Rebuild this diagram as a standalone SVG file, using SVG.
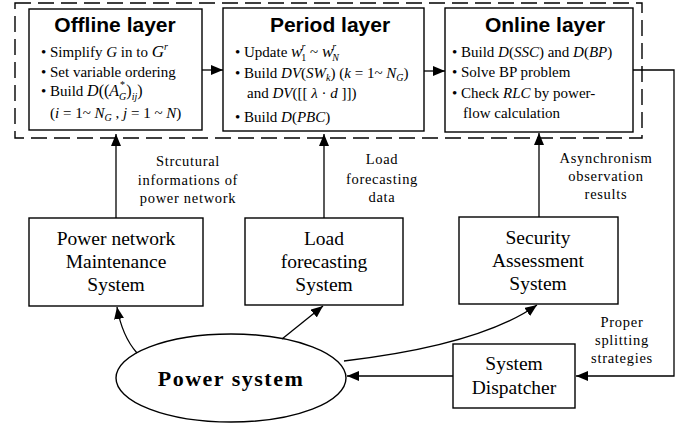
<svg xmlns="http://www.w3.org/2000/svg" width="686" height="426" viewBox="0 0 686 426">
  <style>
    .box { fill: #ffffff; stroke: #000000; stroke-width: 1.4; }
    .frame { fill: none; stroke: #000000; stroke-width: 1.4; stroke-dasharray: 16 7; }
    .edge { fill: none; stroke: #000000; stroke-width: 1.3; }
    .head { font-family: "Liberation Sans", Arial, sans-serif; font-weight: bold; font-size: 21px; fill: #000; text-anchor: middle; }
    .item { font-family: "Liberation Serif", "Times New Roman", serif; font-size: 15px; fill: #000; }
    .math { font-style: italic; }
    .name { font-family: "Liberation Serif", "Times New Roman", serif; font-size: 19.5px; fill: #000; text-anchor: middle; }
    .lbl { font-family: "Liberation Serif", "Times New Roman", serif; font-size: 14.5px; fill: #000; text-anchor: middle; letter-spacing: 0.7px; }
    .sub { font-size: 10px; }
  </style>
  <defs>
    <marker id="arrow" viewBox="0 0 12 10" refX="12" refY="5" markerWidth="12" markerHeight="10" markerUnits="userSpaceOnUse" orient="auto">
      <path d="M0,0 L12,5 L0,10 Z" fill="#000"/>
    </marker>
  </defs>

  <!-- dashed frame around the three layers -->
  <rect class="frame" x="15" y="3" width="627" height="135"/>

  <g id="offline-layer">
    <rect class="box" x="29" y="9" width="173" height="121"/>
    <text class="head" x="115" y="32">Offline layer</text>
    <text class="item" x="41" y="57">• Simplify <tspan class="math">G</tspan> in to <tspan class="math" font-size="17">G</tspan><tspan class="math sub" dy="-7">r</tspan></text>
    <text class="item" x="41" y="77">• Set variable ordering</text>
    <text class="item" x="41" y="96">• Build  <tspan class="math" font-size="16">D</tspan><tspan font-size="16">((</tspan><tspan class="math" font-size="16">A</tspan><tspan class="sub" dx="1" dy="-8">*</tspan><tspan class="math sub" dx="-6" dy="12">G</tspan><tspan font-size="16" dy="-4">)</tspan><tspan class="math sub" dy="4">ij</tspan><tspan font-size="16" dy="-4">)</tspan></text>
    <text class="item" x="50" y="118">(<tspan class="math">i</tspan> = 1~ <tspan class="math">N</tspan><tspan class="math sub" dy="3">G</tspan><tspan dy="-3"> , </tspan><tspan class="math">j</tspan> = 1 ~ <tspan class="math">N</tspan>)</text>
  </g>

  <g id="period-layer">
    <rect class="box" x="223" y="8" width="201" height="123"/>
    <text class="head" x="330" y="32">Period layer</text>
    <text class="item" x="235" y="57">• Update  <tspan class="math" font-size="17">w</tspan><tspan class="math sub" dx="-1" dy="-7">r</tspan><tspan class="sub" dx="-4" dy="11">1</tspan><tspan dy="-4"> ~ </tspan><tspan class="math" font-size="17">w</tspan><tspan class="math sub" dx="-1" dy="-7">r</tspan><tspan class="math sub" dx="-4" dy="11">N</tspan></text>
    <text class="item" x="235" y="78">• Build <tspan class="math">DV</tspan>(<tspan class="math">SW</tspan><tspan class="math sub" dy="3">k</tspan><tspan dy="-3">) (</tspan><tspan class="math">k</tspan> = 1~ <tspan class="math">N</tspan><tspan class="math sub" dy="3">G</tspan><tspan dy="-3">)</tspan></text>
    <text class="item" x="247" y="98">and  <tspan class="math">DV</tspan>([[ <tspan class="math">λ</tspan> · <tspan class="math">d</tspan> ]])</text>
    <text class="item" x="235" y="122">• Build <tspan class="math">D</tspan>(<tspan class="math">PBC</tspan>)</text>
  </g>

  <g id="online-layer">
    <rect class="box" x="445" y="8" width="188" height="124"/>
    <text class="head" x="545" y="32">Online layer</text>
    <text class="item" x="452" y="57">• Build <tspan class="math">D</tspan>(<tspan class="math">SSC</tspan>) and <tspan class="math">D</tspan>(<tspan class="math">BP</tspan>)</text>
    <text class="item" x="452" y="77">• Solve BP problem</text>
    <text class="item" x="452" y="98">• Check <tspan class="math">RLC</tspan>  by power-</text>
    <text class="item" x="463" y="118">flow calculation</text>
  </g>

  <g id="maintenance-system">
    <rect class="box" x="29" y="218" width="174" height="88"/>
    <text class="name" x="116" y="245">Power network</text>
    <text class="name" x="116" y="268">Maintenance</text>
    <text class="name" x="116" y="291">System</text>
  </g>

  <g id="load-forecasting-system">
    <rect class="box" x="245" y="218" width="158" height="87"/>
    <text class="name" x="324" y="245">Load</text>
    <text class="name" x="324" y="268">forecasting</text>
    <text class="name" x="324" y="291">System</text>
  </g>

  <g id="security-assessment-system">
    <rect class="box" x="459" y="217" width="159" height="87"/>
    <text class="name" x="538" y="244">Security</text>
    <text class="name" x="538" y="267">Assessment</text>
    <text class="name" x="538" y="290">System</text>
  </g>

  <g id="system-dispatcher">
    <rect class="box" x="453" y="344" width="122" height="64"/>
    <text class="name" x="514" y="370">System</text>
    <text class="name" x="514" y="394">Dispatcher</text>
  </g>

  <g id="power-system">
    <ellipse class="box" cx="231" cy="378" rx="115" ry="44"/>
    <text x="231" y="386" text-anchor="middle" font-family="'Liberation Serif', 'Times New Roman', serif" font-weight="bold" font-size="22px" letter-spacing="1.5px" fill="#000">Power system</text>
  </g>

  <g id="connectors">
    <line class="edge" x1="202" y1="70" x2="223" y2="70" marker-end="url(#arrow)"/>
    <line class="edge" x1="424" y1="71" x2="445" y2="71" marker-end="url(#arrow)"/>
    <polyline class="edge" points="633,70 674,70 674,376 576,376" marker-end="url(#arrow)"/>
    <line class="edge" x1="116" y1="218" x2="116" y2="134" marker-end="url(#arrow)"/>
    <line class="edge" x1="324" y1="218" x2="324" y2="134" marker-end="url(#arrow)"/>
    <line class="edge" x1="539" y1="217" x2="539" y2="133" marker-end="url(#arrow)"/>
    <path class="edge" d="M137,353 Q122,336 117,307" marker-end="url(#arrow)"/>
    <path class="edge" d="M282,339 L323,306" marker-end="url(#arrow)"/>
    <path class="edge" d="M344,361 Q480,345 537,305" marker-end="url(#arrow)"/>
    <line class="edge" x1="453" y1="376" x2="347" y2="376" marker-end="url(#arrow)"/>
  </g>

  <g id="edge-labels">
    <text class="lbl" x="188" y="166">Strcutural</text>
    <text class="lbl" x="188" y="185">informations of</text>
    <text class="lbl" x="188" y="203">power network</text>
    <text class="lbl" x="382" y="164">Load</text>
    <text class="lbl" x="382" y="184">forecasting</text>
    <text class="lbl" x="382" y="202">data</text>
    <text class="lbl" x="606" y="163">Asynchronism</text>
    <text class="lbl" x="606" y="181">observation</text>
    <text class="lbl" x="606" y="199">results</text>
    <text class="lbl" x="622" y="327" letter-spacing="0.3px">Proper</text>
    <text class="lbl" x="622" y="345" letter-spacing="0.3px">splitting</text>
    <text class="lbl" x="622" y="363" letter-spacing="0.3px">strategies</text>
  </g>
</svg>
